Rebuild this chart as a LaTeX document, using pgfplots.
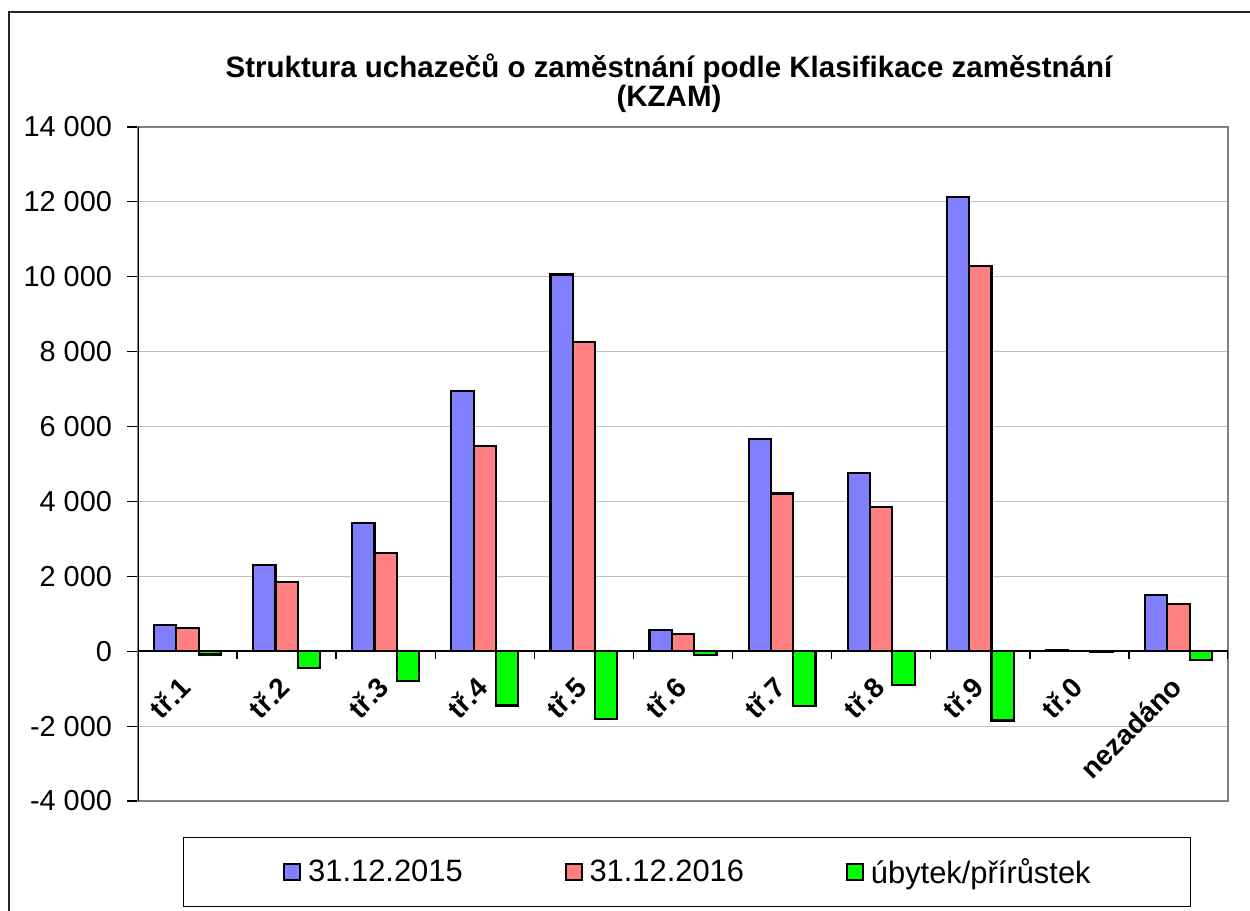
\documentclass[border=0pt]{standalone}
\usepackage{pgfplots}
\pgfplotsset{compat=1.18}
\usepackage{fontspec}
\setmainfont{Liberation Sans}
\definecolor{cblue}{RGB}{128,128,255}
\definecolor{cred}{RGB}{255,128,128}
\definecolor{cgreen}{RGB}{0,255,0}
\definecolor{cgrid}{RGB}{192,192,192}
\definecolor{cframe}{RGB}{128,128,128}
\pgfplotsset{sqleg/.style={legend image code/.code={\draw[##1,line width=0.9bp] (0bp,-4bp) rectangle (8bp,4bp);}}}
\begin{document}
\begin{tikzpicture}
\useasboundingbox (0,0) rectangle (625bp,455.5bp);
\draw[line width=0.7bp, black!85] (4.5bp,0) -- (4.5bp,449.5bp) -- (625bp,449.5bp);
\begin{axis}[
  at={(69bp,55bp)}, anchor=south west,
  width=545bp, height=337bp, scale only axis,
  xmin=-0.5, xmax=10.5, ymin=-4000, ymax=14000,
  ytick={-4000,-2000,...,14000},
  xtick={0,...,10},
  xticklabels={tř.1,tř.2,tř.3,tř.4,tř.5,tř.6,tř.7,tř.8,tř.9,tř.0,nezadáno},
  scaled ticks=false,
  /pgf/number format/.cd, fixed, 1000 sep={\ }, assume math mode=true, /pgfplots/.cd,
  yticklabel style={font=\fontsize{14.5}{14.5}\selectfont, xshift=-4bp},
  xticklabel style={font=\bfseries\fontsize{14}{14}\selectfont, inner sep=0pt, yshift=65bp, xshift=-1bp, rotate=45, anchor=east},
  xtick style={draw=none},
  ytick pos=left,
  tick align=outside,
  major tick length=5.5bp,
  y tick style={black, line width=0.6bp},
  ymajorgrids,
  grid style={cgrid, line width=0.6bp},
  axis line style={cframe, line width=1bp},
  ybar, bar width=0.225,
  legend columns=3,
  legend cell align=left,
  legend style={at={(0.5,0)}, anchor=north, xshift=2bp, yshift=-18bp,
    draw=black, line width=0.6bp, inner xsep=50bp, inner ysep=10.3bp,
    nodes={inner sep=0pt},
    font=\fontsize{15.5}{15.5}\selectfont,
    /tikz/every odd column/.append style={column sep=3.5bp},
    /tikz/every even column/.append style={column sep=51bp}},
]
\addplot[fill=cblue, draw=black, line width=1.1bp, bar shift=-0.225, sqleg] coordinates {
 (0,700) (1,2300) (2,3420) (3,6940) (4,10060) (5,560) (6,5670) (7,4760) (8,12130) (9,20) (10,1500)};
\addplot[fill=cred, draw=black, line width=1.1bp, bar shift=0, sqleg] coordinates {
 (0,615) (1,1845) (2,2630) (3,5490) (4,8250) (5,455) (6,4210) (7,3860) (8,10280) (9,12) (10,1260)};
\addplot[fill=cgreen, draw=black, line width=1.1bp, bar shift=0.225, sqleg] coordinates {
 (0,-85) (1,-455) (2,-790) (3,-1450) (4,-1810) (5,-105) (6,-1460) (7,-900) (8,-1850) (9,-8) (10,-240)};
\legend{31.12.2015,31.12.2016,úbytek/přírůstek}
\draw[black, line width=0.8bp] (axis cs:-0.5,0) -- (axis cs:10.5,0);
\draw[black, line width=0.8bp] (rel axis cs:0,0) -- (rel axis cs:0,1);
\pgfplotsinvokeforeach{0.5,1.5,...,10.5}{\draw[black, line width=0.7bp] (axis cs:#1,0) -- ([yshift=-4bp]axis cs:#1,0);}
\end{axis}
\node[anchor=base, font=\bfseries\fontsize{14.8}{14.8}\selectfont] at (334.5bp,416.5bp) {Struktura uchazečů o zaměstnání podle Klasifikace zaměstnání};
\node[anchor=base, font=\bfseries\fontsize{14.8}{14.8}\selectfont] at (334.5bp,402bp) {(KZAM)};
\end{tikzpicture}
\end{document}
